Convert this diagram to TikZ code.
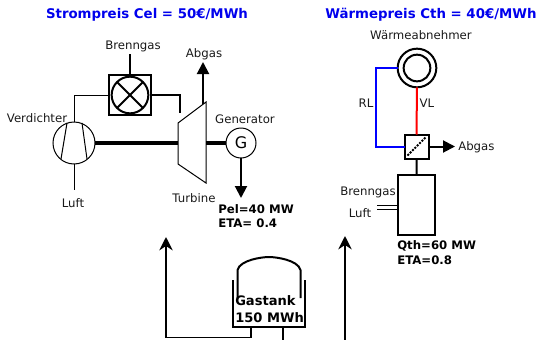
\documentclass[tikz,border=0pt]{standalone}
\usepackage{fontspec}
\setmainfont{DejaVu Sans}
\usepackage{xcolor}
\usetikzlibrary{arrows.meta}
\usetikzlibrary{calc}
\definecolor{priceBlue}{rgb}{0,0,0.93}
\tikzset{
    caption/.style={inner sep=0pt,yshift=-0.5pt,font=\fontsize{8.8pt}{10pt}\selectfont,text=black!90},
    result/.style={inner sep=0pt,yshift=-0.5pt,anchor=west,font=\fontsize{8.8pt}{10pt}\selectfont\bfseries},
    tanktext/.style={inner sep=0pt,yshift=-0.5pt,anchor=west,font=\fontsize{9.8pt}{12pt}\selectfont\bfseries},
    price/.style={inner sep=0pt,yshift=-1pt,font=\fontsize{10pt}{12pt}\selectfont\bfseries,text=priceBlue},
    unit/.style={draw,inner sep=0pt,outer sep=0pt,line width=1.5pt},
    ring/.style={draw,circle,inner sep=0pt,outer sep=0pt},
    pipe/.style={line width=0.75pt},
    pipebold/.style={line width=1.5pt},
    shaft/.style={line width=2.5pt},
    flow/.style={line width=1.5pt,-{Triangle[width=9pt,length=9pt]}},
    supply/.style={line width=1.4pt,-{Stealth[width=10pt,length=10pt]}}
}
\begin{document}
\begin{tikzpicture}[x=0.75pt,y=-0.75pt]
    \useasboundingbox (0,0) rectangle (537,340);

    % draw prices
    \node[price] (priceEl) at (147,13) {Strompreis Cel = 50€/MWh};
    \node[price] (priceTh) at (431,13) {Wärmepreis Cth = 40€/MWh};

    % draw gas turbine units
    \node[unit,minimum width=31.5pt,minimum height=30pt] (burner) at (130,95) {};
    \node[ring,line width=1.5pt,minimum size=27.5pt] (chamber) at (130,95) {};
    \draw[line width=1.5pt] (chamber.north west) -- (chamber.south east);
    \draw[line width=1.5pt] (chamber.north east) -- (chamber.south west);
    \node[ring,line width=0.75pt,minimum size=31.5pt] (compressor) at (74,143) {};
    \draw[pipe] (61,159) -- (67,123);
    \draw[pipe] (87,159) -- (82,123);
    \node[ring,line width=0.75pt,minimum size=22.5pt,font=\fontsize{12pt}{14pt}\selectfont] (generator) at (241,143) {G};

    % draw turbine
    \coordinate (turbineIn) at (178,123);
    \coordinate (turbineTop) at (206,102);
    \coordinate (turbineBottom) at (206,183);
    \coordinate (turbineOut) at (178,164);
    \draw[pipe] (turbineIn) -- (turbineTop) -- (turbineBottom) -- (turbineOut) -- cycle;

    % draw labels of gas turbine
    \node[caption] (gasIn) at (133,46) {Brenngas};
    \node[caption] (airIn) at (73,202) {Luft};
    \node[caption] (compressorName) at (37,117) {Verdichter};
    \node[caption] (exhaustOut) at (204,54) {Abgas};
    \node[caption] (generatorName) at (245,119) {Generator};
    \node[caption] (turbineName) at (194,197) {Turbine};
    \node[result] (power) at (218,208) {Pel=40 MW};
    \node[result] (etaEl) at (218,223) {ETA= 0.4};

    % draw connections of gas turbine
    \coordinate (gasEnd) at (130,54);
    \coordinate (airEnd) at (74,190);
    \coordinate (exhaustStart) at (203,104);
    \coordinate (exhaustEnd) at (203,62);
    \coordinate (powerEnd) at (241,198);
    \draw[pipebold] (gasEnd) -- (burner.north);
    \draw[pipe] (burner.west) -| (compressor.north);
    \draw[pipe] (compressor.south) -- (airEnd);
    \draw[pipebold] (burner.east) -| (180,113);
    \draw[shaft] (compressor.east) -- (178,143);
    \draw[shaft] (206,143) -- (generator.west);
    \draw[flow] (exhaustStart) -- (exhaustEnd);
    \draw[flow] (generator.south) -- (powerEnd);

    % draw heating units
    \node[ring,line width=1.5pt,minimum size=29pt] (consumer) at (417,68) {};
    \node[ring,line width=1.5pt,minimum size=20pt] (consumerIn) at (417,68) {};
    \node[unit,minimum size=18pt] (exchanger) at (416.5,146.5) {};
    \draw[line width=1.5pt,densely dotted] ($(exchanger.south west)+(3,-3)$) -- ($(exchanger.north east)+(-3,3)$);
    \node[unit,minimum width=27.5pt,minimum height=45pt] (boiler) at (416.75,205) {};

    % draw labels of heating
    \node[caption] (consumerName) at (421,34) {Wärmeabnehmer};
    \node[caption] (returnName) at (366,103) {RL};
    \node[caption] (flowName) at (427,103) {VL};
    \node[caption,anchor=west] (exhaustName) at (458,147) {Abgas};
    \node[caption] (gasName) at (368,192) {Brenngas};
    \node[caption] (airName) at (360,212) {Luft};
    \node[result] (heat) at (397,245) {Qth=60 MW};
    \node[result] (etaTh) at (397,260) {ETA=0.8};

    % draw connections of heating
    \coordinate (heatExhaust) at (455,146.5);
    \draw[blue,line width=1.5pt] (consumer.west) -| (376,146.5) -- (exchanger.west);
    \draw[red,line width=1.5pt] (consumer.south) -- (exchanger.north);
    \draw[flow] (exchanger.east) -- (heatExhaust);
    \draw[pipebold] (boiler.north) -- (exchanger.south);
    \draw[pipe] (377,205) -- (398.5,205);
    \draw[pipe] (377,209) -- (398.5,209);

    % draw gas tank
    \draw[pipebold] (233,280) -- (233,327) -- (305,327) -- (305,280);
    \draw[pipebold] (237.5,298) -- (237.5,270) .. controls (240,260) and (262,257) .. (269,257) .. controls (276,257) and (298,260) .. (300.5,270) -- (300.5,298);
    \node[tanktext] (tankName) at (235,300) {Gastank};
    \node[tanktext] (tankSize) at (235,317) {150 MWh};

    % draw supply arrows
    \draw[supply] (251,327) -- (251,337.5) -- (166,337.5) -- (166,237);
    \draw[pipebold] (283,327) -- (283,340);
    \draw[supply] (345,340) -- (345,236);
\end{tikzpicture}
\end{document}
